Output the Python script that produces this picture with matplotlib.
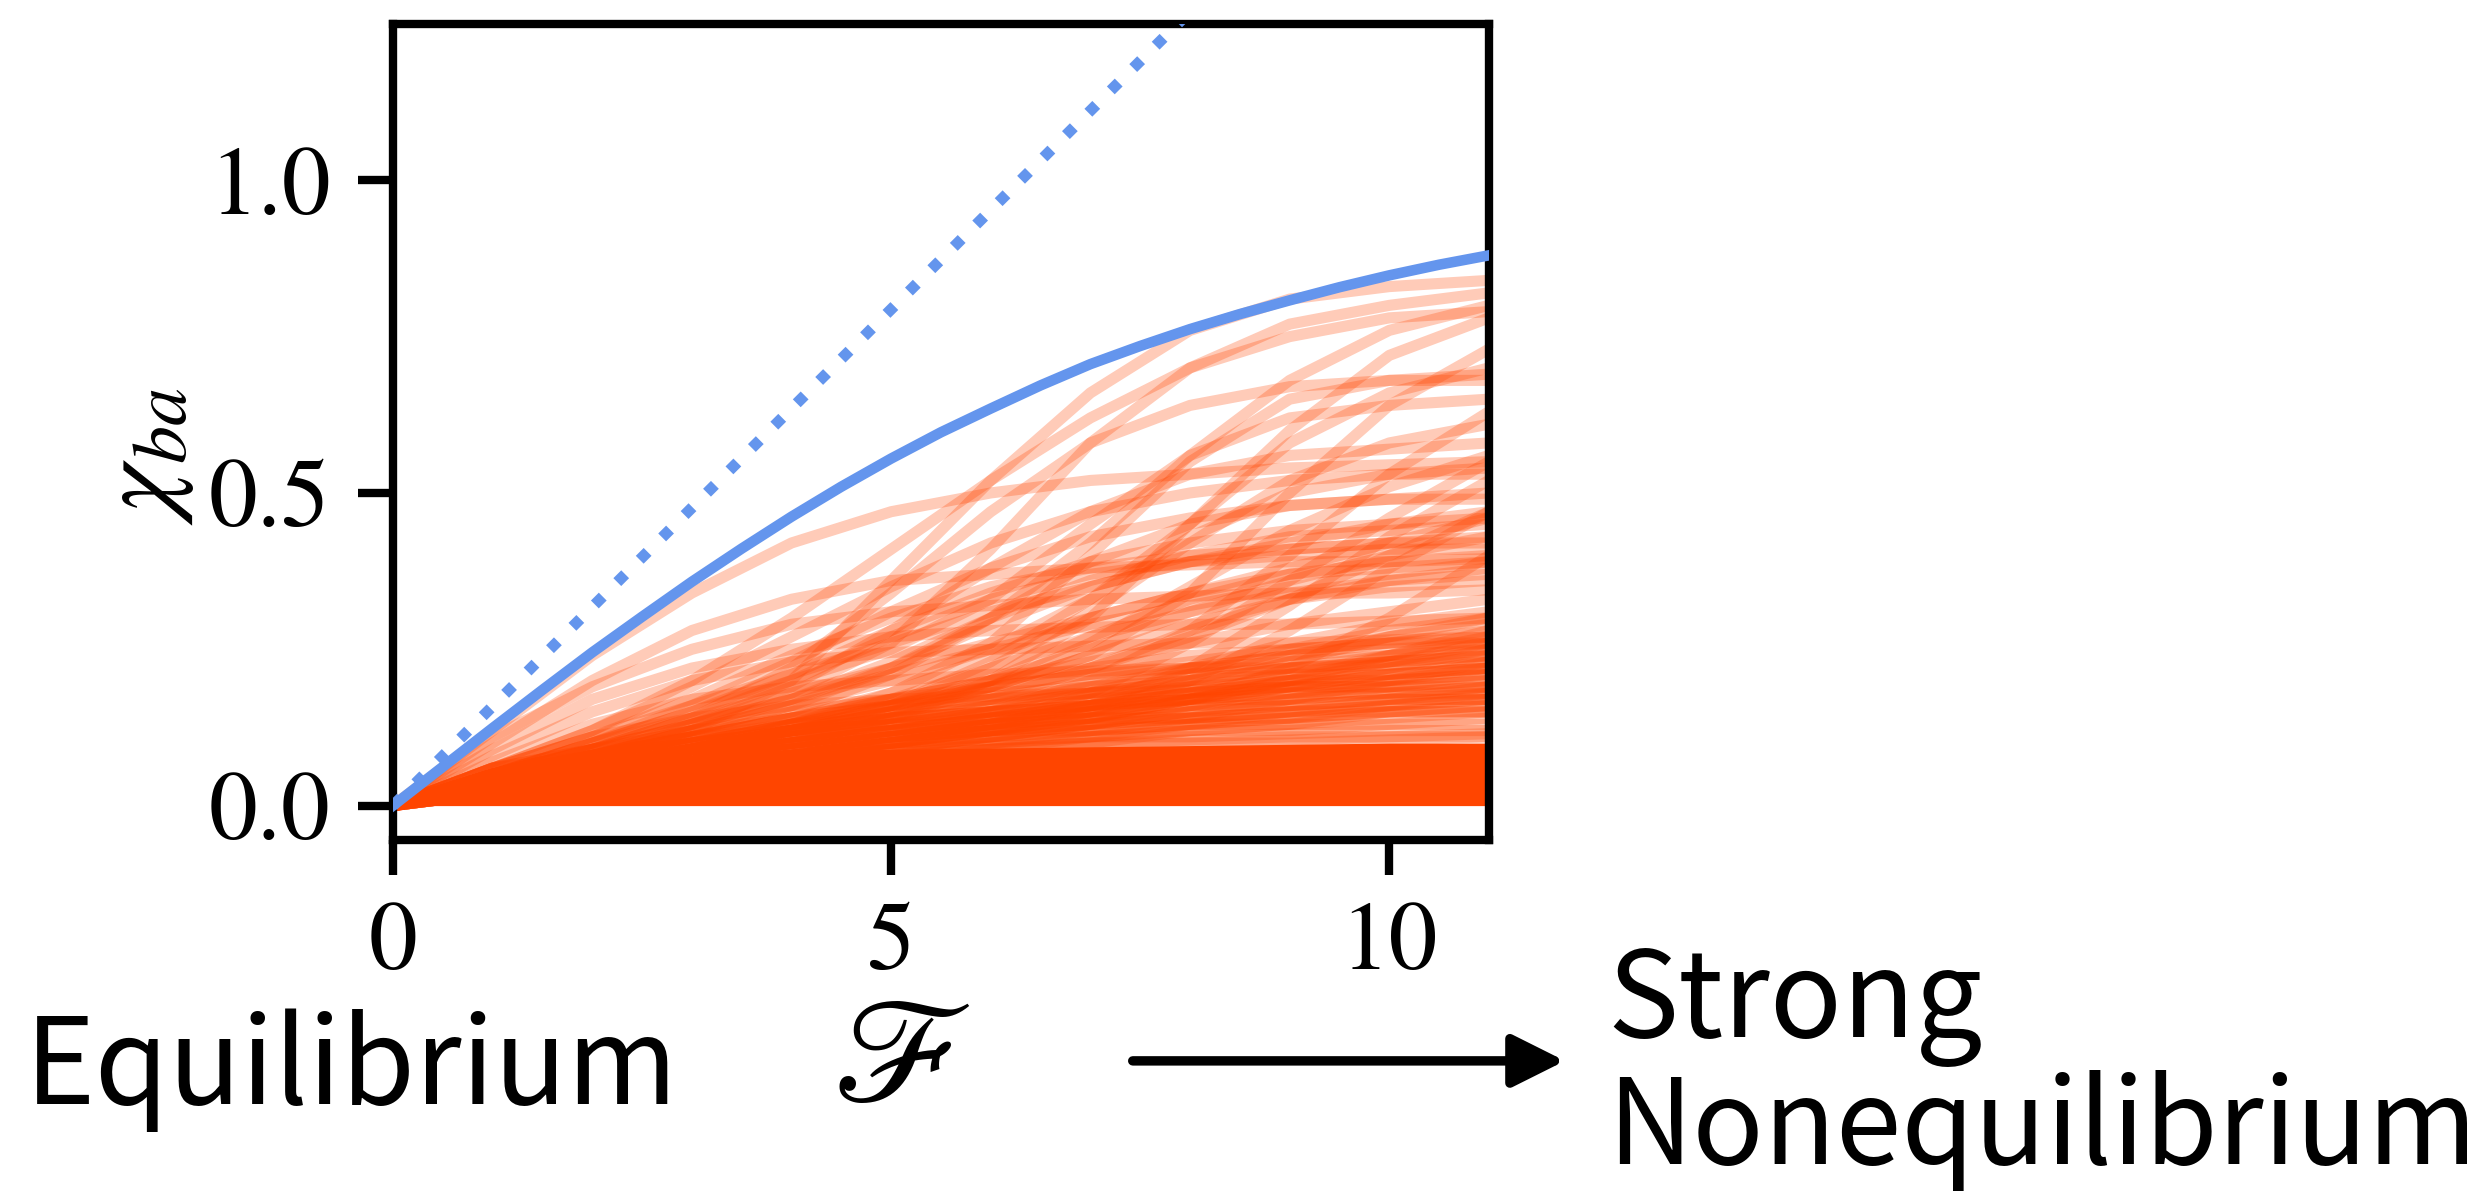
import matplotlib

matplotlib.use("Agg")
import matplotlib.pyplot as plt

# values
force = [0, 1, 2, 3, 4, 5, 6, 7, 8, 9, 10, 11]
force_fine = [0, 0.5, 1, 1.5, 2, 2.5, 3, 3.5, 4, 4.5, 5, 5.5, 6, 6.5, 7, 7.5, 8, 8.5,
              9, 9.5, 10, 10.5, 11]
bound_solid = [0, .062, .124, .185, .245, .302, .358, .411, .462, .510, .555, .597,
               .635, .672, .706, .735, .762, .786, .808, .829, .848, .865, .880]
bound_linear_x = [0, 8]
bound_linear_y = [0, 1.27]

# saturated band along the bottom (where curves pile on top of each other)
band_top = [0, 0.05, 0.07, 0.08, 0.085, 0.09, 0.092, 0.094, 0.096, 0.098, 0.10, 0.10]

# orange curves, sampled at F = 0, 1, ..., 11
chi_early = [
    [0, .12, .24, .34, .42, .47, .50, .52, .53, .54, .545, .55],
    [0, .10, .20, .28, .33, .36, .37, .38, .385, .39, .39, .395],
    [0, .09, .17, .22, .25, .27, .28, .285, .29, .29, .295, .30],
    [0, .08, .15, .20, .23, .245, .25, .255, .26, .26, .265, .27],
    [0, .11, .19, .25, .29, .31, .32, .33, .335, .34, .34, .345],
    [0, .07, .13, .17, .19, .20, .21, .215, .22, .22, .225, .23],
    [0, .06, .11, .14, .16, .17, .175, .18, .185, .19, .19, .19],
]
chi_linear = [
    [0, .05, .09, .13, .17, .21, .25, .29, .32, .35, .37, .39],
    [0, .04, .08, .11, .14, .17, .20, .23, .26, .29, .31, .33],
    [0, .06, .11, .16, .21, .26, .31, .35, .39, .42, .45, .47],
    [0, .03, .06, .09, .12, .14, .16, .18, .20, .22, .24, .26],
    [0, .05, .10, .14, .18, .22, .26, .30, .34, .38, .42, .46],
]
chi_late = [
    [0, .04, .08, .12, .20, .36, .52, .66, .76, .81, .83, .84],
    [0, .05, .09, .13, .18, .26, .41, .58, .70, .77, .80, .82],
    [0, .06, .12, .20, .30, .41, .52, .62, .70, .75, .78, .79],
    [0, .04, .08, .11, .14, .18, .26, .40, .55, .65, .68, .69],
    [0, .05, .09, .14, .22, .34, .47, .58, .64, .67, .68, .68],
    [0, .03, .06, .09, .12, .15, .20, .30, .45, .60, .72, .78],
    [0, .04, .07, .10, .13, .16, .19, .24, .34, .50, .64, .73],
    [0, .03, .06, .08, .10, .12, .15, .20, .28, .40, .53, .63],
    [0, .05, .10, .15, .20, .25, .33, .45, .56, .62, .64, .65],
    [0, .04, .08, .13, .19, .28, .38, .47, .53, .56, .57, .58],
    [0, .03, .06, .09, .12, .16, .23, .33, .43, .50, .53, .54],
    [0, .04, .08, .11, .15, .21, .30, .39, .45, .48, .49, .50],
    [0, .02, .04, .06, .08, .10, .13, .18, .26, .36, .46, .55],
    [0, .03, .05, .07, .09, .11, .13, .16, .22, .32, .43, .52],
    [0, .05, .10, .16, .23, .31, .38, .43, .46, .48, .49, .49],
    [0, .04, .08, .12, .16, .22, .29, .35, .39, .41, .42, .43],
    [0, .03, .06, .09, .13, .18, .24, .30, .34, .37, .38, .39],
    [0, .06, .12, .19, .27, .35, .42, .47, .50, .52, .53, .53],
    [0, .05, .10, .15, .21, .28, .34, .39, .42, .44, .45, .46],
    [0, .02, .04, .06, .08, .10, .12, .15, .20, .28, .38, .47],
    [0, .03, .05, .07, .10, .14, .20, .27, .33, .37, .39, .40],
    [0, .04, .07, .10, .13, .17, .22, .27, .31, .34, .36, .37],
    [0, .03, .06, .09, .12, .15, .19, .24, .29, .33, .36, .38],
    [0, .02, .04, .06, .08, .10, .12, .14, .17, .22, .30, .40],
    [0, .04, .08, .12, .17, .23, .30, .36, .40, .43, .44, .45],
    [0, .05, .09, .14, .20, .27, .33, .37, .39, .40, .41, .41],
    [0, .03, .06, .08, .11, .14, .17, .22, .28, .33, .35, .36],
    [0, .06, .11, .17, .24, .30, .35, .38, .40, .41, .42, .42],
    [0, .05, .09, .13, .17, .22, .30, .42, .56, .68, .76, .80],
    [0, .04, .08, .12, .16, .20, .25, .33, .45, .58, .66, .70],
    [0, .03, .06, .09, .12, .16, .22, .31, .42, .52, .58, .61],
    [0, .02, .04, .07, .10, .14, .19, .26, .35, .44, .51, .56],
    [0, .03, .06, .09, .12, .15, .18, .22, .27, .33, .40, .47],
    [0, .04, .07, .10, .13, .16, .20, .25, .31, .36, .40, .43],
]
chi_low = [
    [0, .03, .06, .08, .10, .12, .14, .16, .18, .20, .22, .24],
    [0, .04, .07, .10, .13, .15, .17, .19, .21, .22, .23, .24],
    [0, .03, .05, .07, .09, .11, .13, .15, .17, .19, .21, .23],
    [0, .02, .04, .06, .08, .10, .12, .14, .17, .20, .23, .26],
    [0, .04, .08, .11, .14, .16, .18, .19, .20, .21, .21, .22],
    [0, .03, .05, .07, .09, .11, .13, .16, .19, .23, .27, .30],
    [0, .02, .04, .05, .07, .09, .11, .13, .16, .19, .22, .25],
    [0, .03, .06, .09, .12, .14, .15, .16, .17, .17, .18, .18],
    [0, .02, .04, .06, .08, .10, .12, .13, .15, .16, .17, .18],
    [0, .03, .06, .08, .10, .12, .14, .17, .21, .25, .28, .30],
    [0, .02, .03, .05, .06, .08, .09, .11, .13, .15, .17, .19],
    [0, .03, .05, .07, .09, .10, .11, .12, .13, .14, .15, .16],
    [0, .04, .07, .10, .12, .14, .15, .16, .17, .18, .19, .20],
    [0, .02, .04, .06, .07, .09, .11, .13, .15, .17, .19, .21],
    [0, .03, .05, .07, .08, .10, .12, .15, .18, .21, .24, .27],
    [0, .02, .03, .05, .06, .07, .09, .10, .12, .13, .15, .16],
    [0, .03, .06, .09, .11, .13, .15, .17, .19, .21, .23, .25],
    [0, .04, .07, .09, .11, .13, .15, .18, .22, .26, .29, .31],
    [0, .02, .04, .05, .07, .08, .10, .12, .14, .17, .20, .23],
    [0, .05, .09, .12, .15, .17, .19, .21, .23, .25, .26, .27],
    [0, .05, .07, .08, .09, .10, .105, .11, .11, .115, .12, .12],
    [0, .04, .07, .09, .10, .11, .12, .12, .13, .13, .13, .14],
    [0, .06, .08, .10, .11, .12, .13, .14, .14, .15, .15, .15],
    [0, .04, .06, .08, .10, .11, .12, .13, .14, .15, .16, .17],
    [0, .05, .08, .10, .12, .13, .14, .15, .16, .16, .17, .17],
    [0, .03, .05, .07, .08, .09, .10, .11, .12, .13, .14, .15],
    [0, .06, .09, .11, .12, .13, .13, .14, .14, .14, .15, .15],
    [0, .04, .06, .08, .09, .10, .11, .12, .13, .14, .16, .18],
    [0, .05, .08, .11, .13, .14, .15, .16, .17, .18, .18, .19],
    [0, .03, .05, .06, .08, .09, .10, .11, .12, .12, .13, .13],
    [0, .04, .07, .10, .12, .15, .17, .20, .22, .24, .26, .28],
    [0, .05, .08, .11, .14, .17, .20, .22, .24, .25, .26, .26],
    [0, .03, .06, .09, .13, .16, .19, .21, .22, .23, .24, .25],
    [0, .04, .06, .09, .11, .13, .16, .19, .22, .24, .25, .26],
    [0, .03, .06, .08, .10, .12, .13, .14, .16, .18, .20, .22],
    [0, .04, .06, .08, .10, .12, .14, .16, .18, .19, .20, .21],
    [0, .02, .05, .07, .09, .11, .13, .15, .16, .17, .18, .19],
    [0, .05, .08, .10, .12, .14, .16, .18, .20, .22, .23, .24],
    [0, .03, .05, .08, .10, .12, .14, .15, .17, .19, .21, .22],
    [0, .04, .07, .09, .11, .12, .14, .16, .18, .20, .21, .22],
    [0, .06, .09, .12, .14, .16, .17, .18, .19, .20, .20, .21],
    [0, .03, .06, .08, .10, .11, .12, .14, .17, .20, .24, .28],
    [0, .02, .04, .06, .08, .09, .11, .13, .15, .16, .17, .17],
    [0, .04, .06, .08, .09, .11, .13, .16, .20, .24, .27, .29],
    [0, .05, .07, .09, .11, .13, .15, .17, .18, .19, .19, .20],
    [0, .03, .05, .07, .09, .11, .12, .13, .14, .15, .16, .17],
    [0, .04, .06, .07, .08, .085, .09, .095, .10, .10, .105, .11],
    [0, .05, .06, .07, .08, .09, .095, .10, .105, .11, .11, .115],
    [0, .03, .05, .06, .07, .08, .09, .10, .10, .105, .11, .11],
]

ORANGE = "#FF4500"
BLUE = "#6495ED"
SANS = ["Noto Sans CJK JP", "DejaVu Sans"]

plt.rcParams["font.family"] = ["STIXGeneral", "DejaVu Serif"]
plt.rcParams["mathtext.fontset"] = "stix"

fig = plt.figure(figsize=(12.42, 5.96), dpi=200)
ax = fig.add_axes([0.1582, 0.2953, 0.4412, 0.6846])

ax.fill_between(force, 0, band_top, color=ORANGE, lw=0, zorder=1)
for curve in chi_low + chi_linear + chi_early + chi_late:
    ax.plot(force, curve, color=ORANGE, alpha=0.28, lw=4.0, solid_joinstyle="round", zorder=2)

ax.plot(force_fine, bound_solid, color=BLUE, lw=3.8, zorder=5)
ax.plot(bound_linear_x, bound_linear_y, color=BLUE, lw=4.0, ls=(0, (1, 1.85)), zorder=5)

ax.set_xlim(0, 11)
ax.set_ylim(-0.055, 1.25)
ax.set_xticks([0, 5, 10])
ax.set_yticks([0.0, 0.5, 1.0])
ax.set_yticklabels(["0.0", "0.5", "1.0"])
for side in ax.spines.values():
    side.set_linewidth(3.0)
ax.tick_params(axis="both", direction="out", length=12.5, width=3.0, labelsize=35, pad=10)

ax.set_ylabel(r"$\chi_{ba}$", fontsize=39)
ax.yaxis.set_label_coords(-0.18, 0.47)

# bottom annotation row
fig.text(0.1414, 0.074, "Equilibrium", family=SANS, fontsize=43,
         ha="center", va="baseline")
fig.text(0.3627, 0.075, r"$\mathscr{F}$", fontsize=54, ha="center", va="baseline")
fig.text(0.647, 0.130, "Strong", family=SANS, fontsize=43,
         ha="left", va="baseline")
fig.text(0.647, 0.0235, "Nonequilibrium", family=SANS, fontsize=42.5,
         ha="left", va="baseline")
ax.annotate("", xy=(0.630, 0.110), xytext=(0.456, 0.110),
            xycoords="figure fraction", textcoords="figure fraction",
            arrowprops=dict(arrowstyle="-|>", lw=3.4, color="black",
                            mutation_scale=40, shrinkA=0, shrinkB=0))

fig.savefig("out.png", dpi=200)
